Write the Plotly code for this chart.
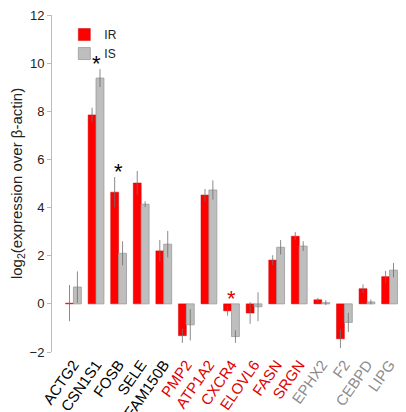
import plotly.graph_objects as go

genes = ["ACTG2", "CSN1S1", "FOSB", "SELE", "FAM150B", "PMP2", "ATP1A2", "CXCR4",
         "ELOVL6", "FASN", "SRGN", "EPHX2", "F2", "CEBPD", "LIPG"]
label_colors = ["black"] * 5 + ["#e00000"] * 6 + ["#8c8c8c"] * 4

ir_vals = [0.03, 7.85, 4.64, 5.02, 2.2, -1.32, 4.52, -0.29, -0.38, 1.82, 2.81, 0.17, -1.45, 0.63, 1.13]
ir_err = [0.75, 0.3, 0.63, 0.5, 0.45, 0.3, 0.25, 0.2, 0.45, 0.2, 0.17, 0.08, 0.38, 0.18, 0.24]
is_vals = [0.7, 9.38, 2.1, 4.14, 2.48, -0.87, 4.73, -1.36, -0.12, 2.35, 2.4, 0.05, -0.77, 0.08, 1.4]
is_err = [0.65, 0.37, 0.5, 0.12, 0.55, 0.65, 0.4, 0.26, 0.6, 0.3, 0.2, 0.1, 0.4, 0.1, 0.3]

stars = [(1, "black"), (2, "black"), (7, "#e00000")]

x = list(range(len(genes)))

fig = go.Figure()
fig.add_trace(go.Bar(
    x=x, y=ir_vals, name="IR",
    marker=dict(color="#ff0000", line=dict(color="#d00000", width=0.5)),
    error_y=dict(type="data", array=ir_err, color="rgba(110,110,110,0.8)", thickness=1, width=0),
))
fig.add_trace(go.Bar(
    x=x, y=is_vals, name="IS",
    marker=dict(color="#bebebe", line=dict(color="#9a9a9a", width=0.8)),
    error_y=dict(type="data", array=is_err, color="rgba(110,110,110,0.8)", thickness=1, width=0),
))

for i, c in stars:
    top = max(ir_vals[i] + ir_err[i], is_vals[i] + is_err[i], 0)
    fig.add_annotation(x=i, y=top, text="*", showarrow=False, yanchor="bottom",
                       yshift=-9, font=dict(size=22, color=c, family="Liberation Sans, Arial"))

ticktext = [f'<span style="color:{c}">{g}</span>' for g, c in zip(genes, label_colors)]

fig.update_layout(
    width=406, height=412,
    margin=dict(l=44, r=10, t=7, b=68),
    plot_bgcolor="white", paper_bgcolor="white",
    barmode="group", bargap=0.3, bargroupgap=0,
    font=dict(family="Liberation Sans, Arial", size=13, color="#222"),
    showlegend=True,
    legend=dict(x=0.035, y=0.985, xanchor="left", yanchor="top", bgcolor="rgba(0,0,0,0)",
                font=dict(size=12), itemwidth=30, tracegroupgap=0),
    xaxis=dict(tickmode="array", tickvals=x, ticktext=ticktext, tickangle=-55,
               range=[-0.95, 14.64], showgrid=False, zeroline=False, showline=False,
               ticks="", automargin=False, tickfont=dict(size=15)),
    yaxis=dict(range=[-2, 12], tickvals=[-2, 0, 2, 4, 6, 8, 10, 12], showgrid=False,
               zeroline=False, showline=True, linecolor="#bbbbbb", linewidth=1,
               ticks="outside", ticklen=4, tickcolor="#bbbbbb", automargin=False,
               ticklabeloverflow="allow",
               tickfont=dict(size=13, color="#222"),
               title=dict(text="log<sub>2</sub>(expression over β-actin)", standoff=8,
                          font=dict(size=15))),
)

fig.write_html("out.html")
